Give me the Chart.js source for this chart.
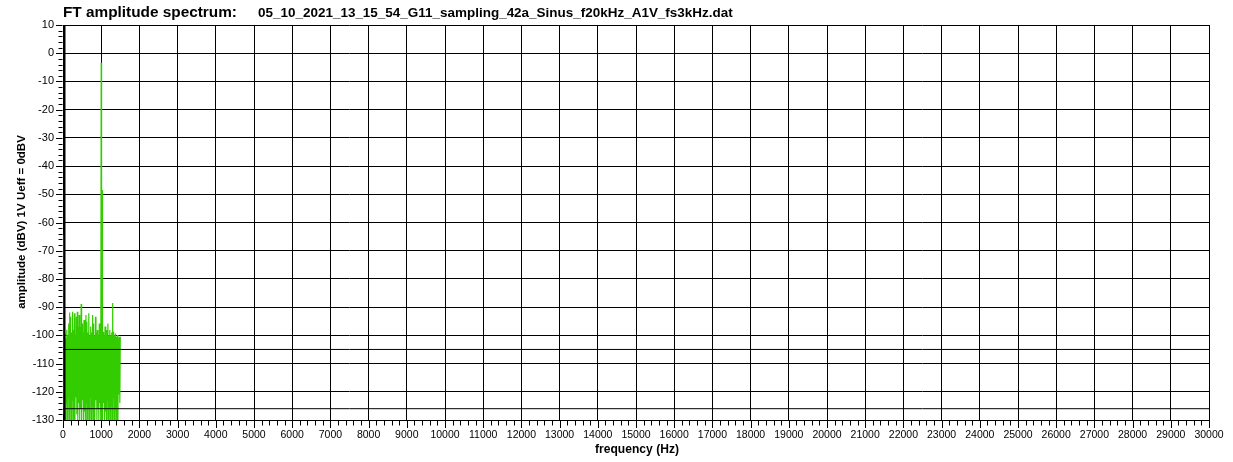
<!DOCTYPE html>
<html>
<head>
<meta charset="utf-8">
<script src="https://cdn.jsdelivr.net/npm/chart.js@4.4.1/dist/chart.umd.min.js"></script>
<style>
  html, body { margin: 0; padding: 0; background: #ffffff; }
  #wrap { width: 1233px; height: 462px; }
</style>
</head>
<body>
<div id="wrap"><canvas id="c" width="1233" height="462"></canvas></div>
<script>
// ---------- data ----------
const titleMain = "FT amplitude spectrum:";
const titleFile = "05_10_2021_13_15_54_G11_sampling_42a_Sinus_f20kHz_A1V_fs3kHz.dat";
const xAxisTitle = "frequency (Hz)";
const yAxisTitle = "amplitude (dBV) 1V Ueff = 0dBV";

const xTickLabels = [0,1000,2000,3000,4000,5000,6000,7000,8000,9000,10000,11000,12000,13000,14000,15000,
  16000,17000,18000,19000,20000,21000,22000,23000,24000,25000,26000,27000,28000,29000,30000];
const yTickLabels = [10,0,-10,-20,-30,-40,-50,-60,-70,-80,-90,-100,-110,-120,-130];

// spectrum: frequency (Hz) and amplitude (dBV)
const spectrumFreq = [
  0,12.5,25,37.5,50,62.5,75,87.5,100,112.5,125,137.5,150,162.5,175,187.5,200,212.5,225,237.5,
  250,262.5,275,287.5,300,312.5,325,337.5,350,362.5,375,387.5,400,412.5,425,437.5,450,462.5,475,487.5,
  500,512.5,525,537.5,550,562.5,575,587.5,600,612.5,625,637.5,650,662.5,675,687.5,700,712.5,725,737.5,
  750,762.5,775,787.5,800,812.5,825,837.5,850,862.5,875,887.5,900,912.5,925,937.5,950,962.5,975,987.5,
  1000,1004,1010,1016,1022,1028,1034,1040,
  1050,1062.5,1075,1087.5,1100,1112.5,1125,1137.5,1150,1162.5,1175,1187.5,1200,1212.5,1225,1237.5,
  1250,1262.5,1275,1287.5,1300,1312.5,1325,1337.5,1350,1362.5,1375,1387.5,1400,1412.5,1425,1437.5,
  1450,1462.5,1475,1487.5,1500
];
const spectrumLevel = [
  -64.4,-128,-101,-127,-99.3,-130,-101,-124,-98,-130,-100,-122,-95.8,-130,-91.9,-126,-93.4,-130,-99,-123,
  -91.6,-130,-98,-125,-92.2,-130,-100,-122,-93.4,-128,-91.6,-130,-97,-124,-92.8,-130,-97,-126,-88.9,-130,
  -95.8,-123,-99,-130,-94.6,-127,-100,-130,-92.8,-124,-95.2,-130,-99,-126,-92.2,-130,-100,-122,-96.9,-130,
  -99,-125,-92.8,-130,-95.8,-127,-100,-130,-93.4,-123,-99,-130,-98.1,-126,-100,-130,-95.8,-124,-99.5,-130,
  -3.4,-129,-48.5,-130,-48.5,-128,-48.8,-130,
  -98.7,-124,-100,-130,-96.9,-127,-100,-130,-98.1,-123,-95.8,-130,-100,-126,-98.1,-130,
  -100,-125,-99,-130,-88.5,-122,-98.7,-130,-100,-126,-99.3,-130,-100.5,-124,-99.9,-130,
  -101,-121,-100.5,-124,-100.5
];

// cursor / marker levels (dBV)
const markerLevels = [-105, -126];

// ---------- helpers ----------
const FAMILY = "'Liberation Sans', Arial, sans-serif";
function fitSize(text, weight, targetW) {
  const c = document.createElement('canvas').getContext('2d');
  c.font = weight + " 100px " + FAMILY;
  return 100 * targetW / c.measureText(text).width;
}
const sMain = fitSize(titleMain, "bold", 174);
const sFile = fitSize(titleFile, "bold", 475);
const sXT = fitSize(xAxisTitle, "bold", 84);
const sYT = fitSize(yAxisTitle, "bold", 174);

const spectrumPoints = spectrumFreq.map((f, i) => ({ x: f, y: spectrumLevel[i] }));

const decorPlugin = {
  id: 'decor',
  afterDatasetsDraw(chart) {
    const { ctx, chartArea: a } = chart;
    ctx.save();
    // thick left axis line
    ctx.fillStyle = '#000';
    ctx.fillRect(a.left + 0.3, a.top, 2.2, a.bottom - a.top + 1);
    ctx.restore();
  },
  afterDraw(chart) {
    const { ctx, chartArea: a, scales } = chart;
    const xs = scales.x, ys = scales.y;
    ctx.save();
    ctx.strokeStyle = '#000';
    ctx.lineWidth = 1;
    ctx.beginPath();
    for (let v = 0; v <= 30000; v += 200) {
      const px = Math.round(xs.getPixelForValue(v)) + 0.5;
      const major = v % 1000 === 0;
      ctx.moveTo(px, a.bottom + 1);
      ctx.lineTo(px, a.bottom + (major ? 8 : 5.5));
    }
    for (let v = -130; v <= 10; v += 2) {
      const py = Math.round(ys.getPixelForValue(v)) + 0.5;
      const major = v % 10 === 0;
      ctx.moveTo(a.left - 0.5, py);
      ctx.lineTo(a.left - (major ? 7 : 4.5), py);
    }
    ctx.stroke();

    ctx.fillStyle = '#000';
    ctx.textBaseline = 'alphabetic';
    ctx.textAlign = 'left';
    ctx.font = "bold " + sMain + "px " + FAMILY;
    ctx.fillText(titleMain, 63, 16.5);
    ctx.font = "bold " + sFile + "px " + FAMILY;
    ctx.fillText(titleFile, 258, 16.5);

    ctx.textAlign = 'center';
    ctx.textBaseline = 'middle';
    ctx.font = "bold " + sXT + "px " + FAMILY;
    ctx.fillText(xAxisTitle, 637, 450);

    ctx.save();
    ctx.translate(22, 222);
    ctx.rotate(-Math.PI / 2);
    ctx.font = "bold " + sYT + "px " + FAMILY;
    ctx.fillText(yAxisTitle, 0, 0);
    ctx.restore();
    ctx.restore();
  }
};

const datasets = markerLevels.map(lv => ({
  data: [{ x: 0, y: lv }, { x: 30000, y: lv }],
  borderColor: '#000000',
  borderWidth: 1,
  pointRadius: 0,
  tension: 0
}));
datasets.push({
  data: spectrumPoints,
  borderColor: '#33cc00',
  borderWidth: 1.2,
  pointRadius: 0,
  tension: 0
});

new Chart(document.getElementById('c'), {
  type: 'line',
  data: { datasets },
  options: {
    responsive: false,
    animation: false,
    devicePixelRatio: 1,
    events: [],
    layout: { padding: { left: 0, top: 25, right: 24, bottom: 0 } },
    plugins: { legend: { display: false }, tooltip: { enabled: false }, title: { display: false } },
    scales: {
      x: {
        type: 'linear',
        min: xTickLabels[0],
        max: xTickLabels[xTickLabels.length - 1],
        afterFit(s) { s.height = 42; },
        afterBuildTicks(s) { s.ticks = xTickLabels.map(v => ({ value: v })); },
        ticks: {
          autoSkip: false, maxRotation: 0, minRotation: 0, padding: 9,
          color: '#000', font: { family: FAMILY, size: 10.5 },
          callback: v => String(v)
        },
        grid: { color: '#000', lineWidth: 1, drawTicks: false },
        border: { display: true, color: '#000', width: 1 }
      },
      y: {
        type: 'linear',
        min: -130,
        max: 10,
        afterFit(s) { s.width = 63; },
        afterBuildTicks(s) { s.ticks = yTickLabels.slice().reverse().map(v => ({ value: v })); },
        ticks: {
          autoSkip: false, padding: 9,
          color: '#000', font: { family: FAMILY, size: 11 },
          callback: v => String(v)
        },
        grid: { color: '#000', lineWidth: 1, drawTicks: false },
        border: { display: false }
      }
    }
  },
  plugins: [decorPlugin]
});
</script>
</body>
</html>
